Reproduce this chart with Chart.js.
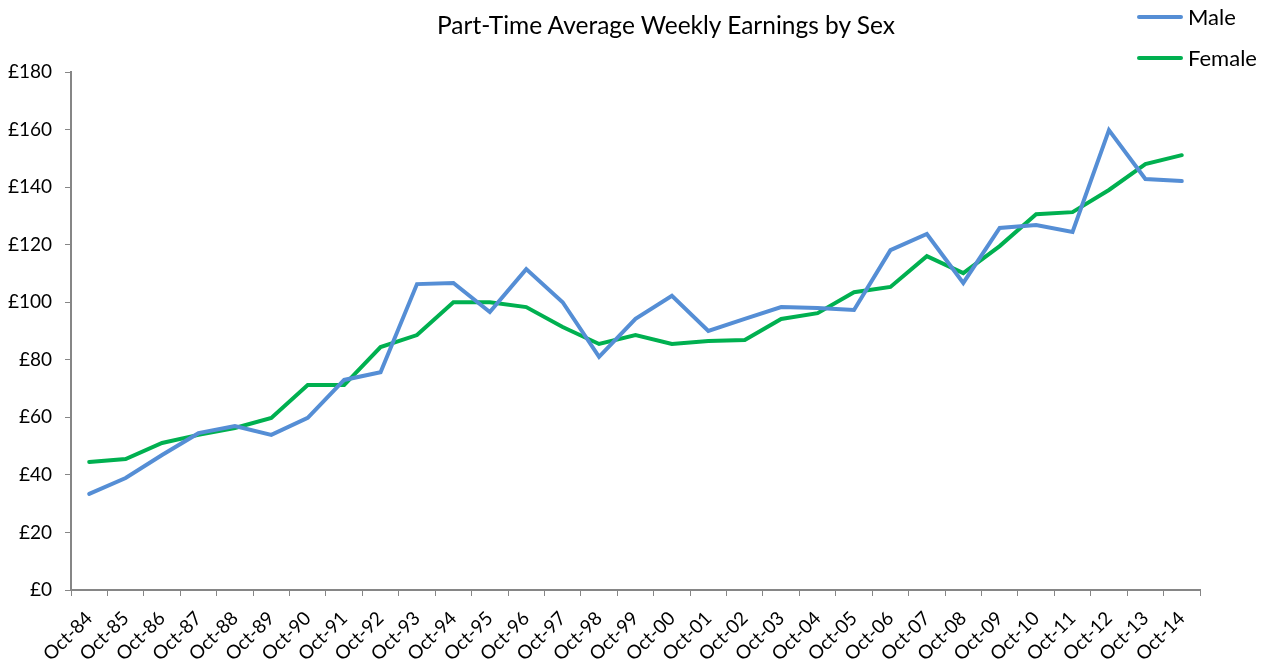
<!DOCTYPE html>
<html>
<head>
<meta charset="utf-8">
<script src="https://cdn.jsdelivr.net/npm/chart.js@4/dist/chart.umd.min.js"></script>
<style>
  html, body { margin: 0; padding: 0; background: #fff; }
  #wrap { position: relative; width: 1273px; height: 663px; }
  #title { position: absolute; left: 366px; width: 600px; top: 9px; text-align: center;
    font-family: Lato, sans-serif; font-size: 24.5px; color: #000; line-height: 32px; }
  #legend { position: absolute; left: 1137px; top: -4px; font-family: Lato, sans-serif; font-size: 22px; color: #000; }
  #legend div { display: flex; align-items: center; height: 41px; }
  #legend span.sw { display: inline-block; width: 46px; height: 4px; border-radius: 2px; margin-right: 5px; }
</style>
</head>
<body>
<div id="wrap">
  <canvas id="chart" width="1273" height="663"></canvas>
  <div id="title">Part-Time Average Weekly Earnings by Sex</div>
  <div id="legend"></div>
</div>
<script>
// categories
const labels = ["Oct-84","Oct-85","Oct-86","Oct-87","Oct-88","Oct-89","Oct-90","Oct-91","Oct-92","Oct-93",
  "Oct-94","Oct-95","Oct-96","Oct-97","Oct-98","Oct-99","Oct-00","Oct-01","Oct-02","Oct-03",
  "Oct-04","Oct-05","Oct-06","Oct-07","Oct-08","Oct-09","Oct-10","Oct-11","Oct-12","Oct-13","Oct-14"];
// weekly earnings, pounds
const male = [33.4, 38.9, 46.9, 54.5, 57.0, 53.9, 59.8, 73.0, 75.7, 106.3,
  106.7, 96.6, 111.5, 100.0, 81.0, 94.2, 102.2, 90.0, 94.2, 98.3,
  98.0, 97.3, 118.1, 123.7, 106.7, 125.8, 126.8, 124.4, 159.8, 142.8, 142.1];
const female = [44.5, 45.5, 51.1, 53.9, 56.3, 59.8, 71.2, 71.2, 84.4, 88.6,
  100.0, 100.0, 98.3, 91.4, 85.5, 88.6, 85.5, 86.5, 86.9, 94.2,
  96.2, 103.5, 105.3, 116.0, 110.1, 119.5, 130.6, 131.3, 139.0, 148.0, 151.1];
const seriesNames = ["Male", "Female"];
const seriesColors = ["#558ED5", "#00B050"];

const FONT = "Lato, sans-serif";
const axisGray = "#868686";

const chart = new Chart(document.getElementById("chart"), {
  type: "line",
  data: {
    labels: labels,
    datasets: [
      { label: seriesNames[0], data: male, borderColor: seriesColors[0], backgroundColor: seriesColors[0] },
      { label: seriesNames[1], data: female, borderColor: seriesColors[1], backgroundColor: seriesColors[1] }
    ]
  },
  options: {
    responsive: false,
    animation: false,
    elements: {
      line: { borderWidth: 4, tension: 0, borderCapStyle: "round", borderJoinStyle: "miter" },
      point: { radius: 0 }
    },
    layout: { padding: { left: 0, right: 73, top: 72, bottom: 0 } },
    plugins: {
      legend: { display: false },
      tooltip: { enabled: false },
      title: { display: false }
    },
    scales: {
      x: {
        offset: true,
        grid: { display: true, offset: true, drawOnChartArea: false, drawTicks: true, tickLength: 6, color: axisGray },
        border: { color: axisGray, width: 2 },
        ticks: { color: "#000", font: { family: FONT, size: 19 }, minRotation: 45, maxRotation: 45, autoSkip: false, padding: 11 },
        afterFit: (s) => { s.height = 73; }
      },
      y: {
        min: 0,
        max: 180,
        grid: { display: true, drawOnChartArea: false, drawTicks: true, tickLength: 6, color: axisGray },
        border: { color: axisGray, width: 2 },
        ticks: { stepSize: 20, color: "#000", font: { family: FONT, size: 19 }, padding: 13,
          callback: (v) => "£" + v },
        afterFit: (s) => { s.width = 71; }
      }
    }
  }
});

// legend in the top right corner
const legend = document.getElementById("legend");
seriesNames.forEach((name, i) => {
  const row = document.createElement("div");
  row.innerHTML = '<span class="sw" style="background:' + seriesColors[i] + '"></span>' + name;
  legend.appendChild(row);
});
</script>
</body>
</html>
